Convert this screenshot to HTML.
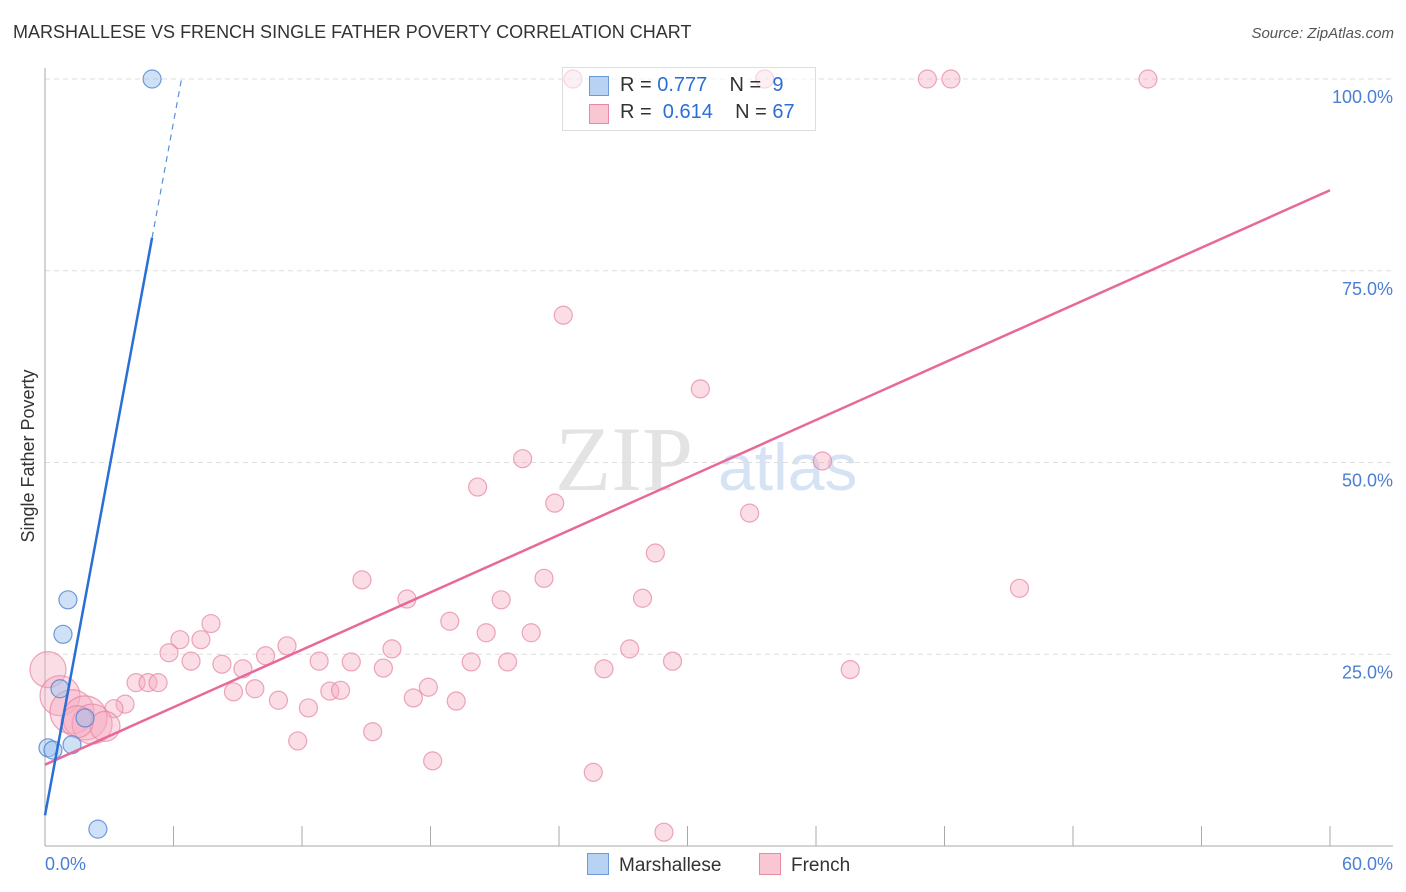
<!DOCTYPE html>
<html><head><meta charset="utf-8"><style>
body{margin:0;background:#fff;font-family:"Liberation Sans",sans-serif}
#wrap{position:relative;width:1406px;height:892px;overflow:hidden}
.t{position:absolute;white-space:nowrap}
</style></head><body>
<div id="wrap">
<div class="t" style="left:13px;top:22px;font-size:18px;color:#333">MARSHALLESE VS FRENCH SINGLE FATHER POVERTY CORRELATION CHART</div>
<div class="t" style="right:12px;top:25px;font-size:15px;color:#555;font-style:italic">Source: ZipAtlas.com</div>
<svg id="svg" width="1406" height="892" style="position:absolute;left:0;top:0"></svg>
</div>
<script>
const xTicks=[0,6,12,18,24,30,36,42,48,54,60];
const yTicks=[25,50,75,100];
const blueX=[5.0,1.07,0.84,0.7,1.87,0.14,0.37,1.26,2.47];
const blueY=[100,32.1,27.6,20.5,16.7,12.8,12.5,13.2,2.2];
const pinkX=[24.65,33.6,41.2,42.3,51.5,24.2,30.6,22.3,36.3,20.2,23.8,32.9,28.5,45.5,23.3,14.8,16.9,21.3,27.9,18.9,20.6,22.7,7.75,6.3,7.28,11.3,16.2,27.3,5.79,10.3,6.82,8.26,12.8,14.3,19.9,21.6,29.3,9.24,15.8,26.1,37.6,4.25,4.81,5.28,17.9,8.8,9.8,13.3,13.8,17.2,10.9,19.2,3.74,12.3,3.22,15.3,11.8,18.1,25.6,28.9,0.14,0.7,1.26,1.87,2.2,2.8,1.5];
const pinkY=[100,100,100,100,100,69.2,59.6,50.5,50.2,46.8,44.7,43.4,38.2,33.6,34.9,34.7,32.2,32.1,32.3,29.3,27.8,27.8,29.0,26.9,26.9,26.1,25.7,25.7,25.2,24.8,24.1,23.7,24.1,24.0,24.0,24.0,24.1,23.1,23.2,23.1,23.0,21.3,21.3,21.3,20.7,20.1,20.5,20.2,20.3,19.3,19.0,18.9,18.5,18.0,17.9,14.9,13.7,11.1,9.6,1.8,23.0,19.6,17.5,16.7,15.9,15.6,16.2];
const pinkR=[9,9,9,9,9,9,9,9,9,9,9,9,9,9,9,9,9,9,9,9,9,9,9,9,9,9,9,9,9,9,9,9,9,9,9,9,9,9,9,9,9,9,9,9,9,9,9,9,9,9,9,9,9,9,9,9,9,9,9,9,18,20,22,22,20,15,16];
const blueFit=[4.0,15.06];
const pinkFit=[10.6,1.2483];
const X=v=>45+v/60*1285, Y=v=>846-v/100*767;
const svg=document.getElementById('svg'),NS='http://www.w3.org/2000/svg';
function mk(tag,a,p){const e=document.createElementNS(NS,tag);for(const k in a)e.setAttribute(k,a[k]);(p||svg).appendChild(e);return e;}
let w=mk('text',{x:555,y:490,'font-size':92,fill:'#e3e3e3','font-family':'Liberation Serif, serif'});w.textContent='ZIP';


let w2=mk('text',{x:718,y:490,'font-size':66,fill:'#d5e3f5','font-family':'Liberation Sans, sans-serif'});w2.textContent='atlas';


yTicks.forEach(v=>{
 let g=mk('line',{x1:45,x2:1393,y1:Y(v),y2:Y(v),stroke:'#ddd','stroke-dasharray':'5,4'});
 
 
 let t=mk('text',{x:1393,y:Y(v)+24,'text-anchor':'end','font-size':18,fill:'#4a7fd4'});t.textContent=v.toFixed(1)+'%';
 
 
});
let ax=mk('line',{x1:45,x2:45,y1:68,y2:846,stroke:'#aaa'});


let bx=mk('line',{x1:45,x2:1393,y1:846,y2:846,stroke:'#aaa'});


xTicks.forEach((v,i)=>{if(i==0)return;
 let l=mk('line',{x1:X(v),x2:X(v),y1:826,y2:846,stroke:'#aaa'});
 
 
});
let xl0=mk('text',{x:45,y:870,'font-size':18,fill:'#4a7fd4'});xl0.textContent='0.0%';


let xl1=mk('text',{x:1393,y:870,'text-anchor':'end','font-size':18,fill:'#4a7fd4'});xl1.textContent='60.0%';


let yt=mk('text',{x:34,y:456,'font-size':18,fill:'#333','text-anchor':'middle',transform:'rotate(-90 34 456)'});yt.textContent='Single Father Poverty';


pinkX.forEach((x,i)=>{
 let c=mk('circle',{cx:X(x),cy:Y(pinkY[i]),r:pinkR[i],fill:'rgba(246,170,192,0.4)',stroke:'rgba(230,130,160,0.7)','stroke-width':1.2});
 
 
});
blueX.forEach((x,i)=>{
 let c=mk('circle',{cx:X(x),cy:Y(blueY[i]),r:9,fill:'rgba(160,195,240,0.5)',stroke:'rgba(80,130,210,0.8)','stroke-width':1.2});
 
 
});
let pl=mk('line',{x1:X(0),y1:Y(pinkFit[0]),x2:X(60),y2:Y(pinkFit[0]+60*pinkFit[1]),stroke:'#e8689a','stroke-width':2.5});


const bEnd=5.0, bTop=(100-blueFit[0])/blueFit[1];
let bl=mk('line',{x1:X(0),y1:Y(blueFit[0]),x2:X(bEnd),y2:Y(blueFit[0]+bEnd*blueFit[1]),stroke:'#2a6fd6','stroke-width':2.5});


let bd=mk('line',{x1:X(bEnd),y1:Y(blueFit[0]+bEnd*blueFit[1]),x2:X(bTop),y2:Y(100),stroke:'#5b8fd6','stroke-width':1.2,'stroke-dasharray':'6,5'});


</script>
<div class="t" style="left:562px;top:67px;width:252px;height:62px;border:1px solid #ddd;background:rgba(255,255,255,0.55);font-size:20px;color:#333">
 <div style="position:absolute;left:26px;top:8px;width:18px;height:18px;background:#b8d2f3;border:1px solid #6c9ad8"></div>
 <div style="position:absolute;left:57px;top:6px">R = <span style="color:#2a6fd6">0.777</span>&nbsp;&nbsp;&nbsp; N = &nbsp;<span style="color:#2a6fd6">9</span></div>
 <div style="position:absolute;left:26px;top:36px;width:18px;height:18px;background:#f9c6d3;border:1px solid #e98aa5"></div>
 <div style="position:absolute;left:57px;top:33px">R = &nbsp;<span style="color:#2a6fd6">0.614</span>&nbsp;&nbsp;&nbsp; N = <span style="color:#2a6fd6">67</span></div>
</div>
<div class="t" style="left:587px;top:853px;font-size:19px;color:#333"><span style="display:inline-block;width:20px;height:20px;background:#b8d2f3;border:1px solid #6c9ad8;vertical-align:-4px;margin-right:10px"></span>Marshallese</div>
<div class="t" style="left:759px;top:853px;font-size:19px;color:#333"><span style="display:inline-block;width:20px;height:20px;background:#f9c6d3;border:1px solid #e98aa5;vertical-align:-4px;margin-right:10px"></span>French</div>
</body></html>
